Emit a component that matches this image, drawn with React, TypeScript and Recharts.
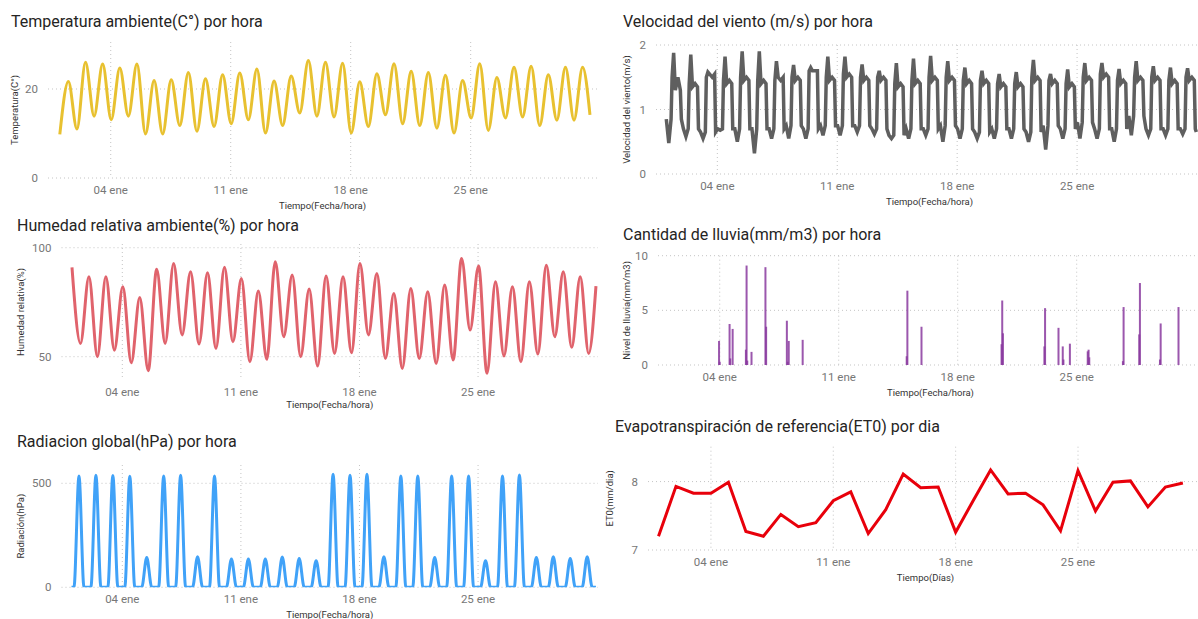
import React from 'react';
import { ComposedChart, Line, Bar, XAxis, YAxis, CartesianGrid } from 'recharts';

// eje de tiempo: días desde el 01 ene 00:00
const xTickDays = [3, 10, 17, 24];
const xTickLabels = ['04 ene', '11 ene', '18 ene', '25 ene'];
const lastHour = 30.96;

// Temperatura (C°): mínimo de madrugada y máximo de mediodía de cada día
const tempLows = [9.8, 11.0, 13.9, 13.1, 13.9, 9.9, 9.9, 11.8, 10.5, 11.6, 12.2, 13.1, 10.1, 11.8, 14.6, 13.9, 13.7, 10.1, 11.6, 14.2, 12.2, 11.8, 11.2, 10.1, 13.5, 10.7, 13.5, 13.7, 11.8, 13.0, 13.0, 14.2];
const tempHighs = [21.7, 26.0, 25.6, 24.7, 25.6, 21.9, 22.1, 23.7, 22.3, 23.2, 23.6, 24.5, 21.8, 22.9, 26.4, 26.0, 25.8, 21.6, 23.4, 25.7, 24.0, 23.7, 23.1, 21.9, 25.7, 22.6, 24.9, 25.1, 23.2, 24.9, 24.9];

// Humedad relativa (%): máximo nocturno y mínimo de la tarde
const humHighs = [91, 86.7, 86.7, 82.1, 77.2, 90.1, 92.8, 89, 88.5, 91, 85.9, 80.1, 93.6, 87.5, 81, 87, 86.7, 92.8, 88.2, 79, 81.3, 79.8, 82.9, 95.1, 91.6, 84.4, 82.1, 84.4, 92, 89, 86.7, 82.4];
const humLows = [56.1, 50, 53, 47.2, 43.6, 56.1, 60, 55.8, 53.8, 56.9, 47.7, 48.8, 59.2, 50, 45.7, 51.5, 51.8, 60, 49.2, 44.6, 49.2, 46.9, 48.5, 62.2, 42.4, 50.3, 47.7, 51.2, 59.2, 54.3, 51.5];

// Radiación global: pico diario
const radPeaks = [535, 539, 537, 534, 143, 535, 539, 147, 535, 136, 136, 136, 146, 139, 128, 543, 539, 543, 147, 535, 535, 143, 535, 535, 128, 535, 540, 143, 147, 139, 147];

// Velocidad del viento (m/s): noche, mínimo, subida de la mañana, pico, meseta de la tarde
const windNight = [0.85, 0.7, 0.65, 0.7, 0.7, 0.7, 0.7, 0.75, 0.7, 0.75, 0.75, 0.75, 0.7, 0.6, 0.7, 0.7, 0.75, 0.7, 0.65, 0.7, 0.7, 0.65, 0.75, 0.7, 0.8, 0.7, 0.7, 0.9, 0.7, 0.7, 0.7];
const windDip = [0.48, 0.58, 0.55, 0.68, 0.5, 0.32, 0.55, 0.55, 0.55, 0.6, 0.6, 0.65, 0.62, 0.55, 0.55, 0.6, 0.5, 0.55, 0.55, 0.55, 0.55, 0.5, 0.38, 0.55, 0.55, 0.55, 0.5, 0.6, 0.6, 0.6, 0.62];
const windPeak = [1.88, 1.85, 1.58, 1.82, 1.9, 1.9, 1.75, 1.69, 1.65, 1.82, 1.82, 1.7, 1.6, 1.72, 1.79, 1.83, 1.75, 1.65, 1.6, 1.55, 1.58, 1.77, 1.55, 1.62, 1.72, 1.72, 1.63, 1.75, 1.67, 1.65, 1.64];
const windDay = [1.5, 1.4, 1.5, 1.45, 1.5, 1.45, 1.45, 1.5, 1.6, 1.5, 1.55, 1.5, 1.5, 1.4, 1.45, 1.5, 1.5, 1.45, 1.45, 1.4, 1.4, 1.5, 1.45, 1.4, 1.5, 1.55, 1.45, 1.5, 1.5, 1.45, 1.5];
const windLate = [1.3, 1.35, 1.55, 1.4, 1.45, 1.4, 1.5, 1.45, 1.6, 1.45, 1.5, 1.45, 1.45, 1.35, 1.4, 1.45, 1.45, 1.4, 1.4, 1.35, 1.35, 1.45, 1.4, 1.35, 1.45, 1.5, 1.4, 1.45, 1.45, 1.4, 1.45];
const windEnd = 0.65;

// Lluvia (mm/m3): horas con lluvia
const rainTimes = [2.96, 3.0, 3.58, 3.62, 3.76, 4.54, 4.58, 4.62, 4.87, 5.69, 5.73, 6.95, 7.0, 7.06, 7.88, 14.0, 14.04, 14.87, 19.58, 19.62, 19.66, 22.1, 22.14, 22.93, 23.18, 23.22, 23.6, 24.65, 24.7, 24.74, 26.72, 26.76, 27.68, 27.72, 28.9, 28.94, 29.99];
const rainValues = [2.2, 0.3, 3.75, 0.6, 3.3, 1.4, 9.1, 0.4, 1.2, 8.95, 3.5, 4.05, 0.3, 2.2, 2.3, 0.8, 6.8, 3.5, 1.9, 5.9, 2.9, 1.7, 5.2, 3.4, 1.7, 0.5, 1.95, 1.25, 1.4, 0.7, 0.35, 5.3, 2.8, 7.5, 0.5, 3.8, 5.3];

// ET0 (mm/dia) por día
const et0Values = [7.2, 7.93, 7.83, 7.83, 7.99, 7.27, 7.2, 7.52, 7.34, 7.4, 7.72, 7.85, 7.24, 7.59, 8.11, 7.91, 7.92, 7.26, 7.72, 8.17, 7.82, 7.83, 7.66, 7.28, 8.16, 7.57, 7.99, 8.01, 7.63, 7.92, 7.98];

const at = (d: number, hour: number) => Math.min(d + hour / 24, lastHour);
const byTime = (a: { t: number }, b: { t: number }) => a.t - b.t;

const tempData = [
  ...tempLows.map((v, d) => ({ t: at(d, 0.7), v })),
  ...tempHighs.map((v, d) => ({ t: at(d, 12.7), v })),
].sort(byTime);

const humData = [
  ...humHighs.map((v, d) => ({ t: at(d, 0.7), v })),
  ...humLows.map((v, d) => ({ t: at(d, 12.7), v })),
].sort(byTime);

const radData = [
  { t: 0, v: 0 },
  ...radPeaks.flatMap((v, d) => [
    { t: at(d, 3.5), v: 0 },
    { t: at(d, 10.6), v },
    { t: at(d, 17.7), v: 0 },
  ]),
  { t: lastHour, v: 0 },
];

const windData = [
  ...windNight.flatMap((n, d) => [
    { t: at(d, 0.5), v: n },
    { t: at(d, 4), v: windDip[d] },
    { t: at(d, 7.2), v: n },
    { t: at(d, 8.6), v: windDay[d] },
    { t: at(d, 10.8), v: windPeak[d] },
    { t: at(d, 13.2), v: windLate[d] },
    { t: at(d, 16.8), v: windDay[d] },
    { t: at(d, 20.2), v: windLate[d] },
    { t: at(d, 21.6), v: n },
  ]),
  { t: lastHour, v: windEnd },
];

const rainData = rainTimes.map((t, i) => ({ t, v: rainValues[i] }));
const et0Data = et0Values.map((v, d) => ({ t: d, v }));

const FONT = 'Roboto, "Open Sans", sans-serif';

type Plot = { l: number; r: number; t: number; b: number };

interface PanelProps {
  left: number;
  top: number;
  plot: Plot;
  title: string;
  titleX: number;
  titleY: number;
  yTitle: string;
  yTitleX: number;
  xTitle: string;
  xTitleY: number;
  xDomain: [number, number];
  yDomain: [number, number];
  yTicks: number[];
  data: any[];
  children: React.ReactNode;
}

// barra horaria fina: el ancho de banda entre horas es menor de 1px
const RainBar = (props: any) => {
  const { x, y, width, height } = props;
  if (!height || height <= 0) return null;
  return <rect x={x + width / 2 - 1} y={y} width={2} height={height} fill="#8A3A9F" fillOpacity={0.85} />;
};

const Panel = (p: PanelProps) => {
  const yAxisWidth = p.plot.l - p.left;
  const xAxisHeight = p.xTitleY + 3.5 - p.plot.b;
  const width = p.plot.r + 2 - p.left;
  const height = p.plot.b + xAxisHeight + 2 - p.top;
  return (
    <>
      <div
        style={{
          position: 'absolute',
          left: p.titleX,
          top: p.titleY - 11,
          fontFamily: FONT,
          fontSize: 16,
          lineHeight: '22px',
          color: '#252423',
          whiteSpace: 'nowrap',
        }}
      >
        {p.title}
      </div>
      <div style={{ position: 'absolute', left: p.left, top: p.top }}>
        <ComposedChart
          width={width}
          height={height}
          data={p.data}
          margin={{ top: p.plot.t - p.top, right: 2, left: 0, bottom: 2 }}
        >
          <CartesianGrid stroke="#c4c4c4" strokeDasharray="1 3" syncWithTicks />
          <XAxis
            dataKey="t"
            type="number"
            domain={p.xDomain}
            allowDataOverflow
            ticks={xTickDays}
            interval={0}
            tickFormatter={(v) => xTickLabels[xTickDays.indexOf(v)]}
            axisLine={false}
            tickLine={false}
            height={xAxisHeight}
            tick={{ fill: '#777', fontSize: 11.5, fontFamily: FONT }}
            label={{ value: p.xTitle, position: 'insideBottom', offset: 0, fill: '#333', fontSize: 9.5, fontFamily: FONT }}
          />
          <YAxis
            type="number"
            domain={p.yDomain}
            allowDataOverflow
            ticks={p.yTicks}
            interval={0}
            axisLine={false}
            tickLine={false}
            tickMargin={4}
            width={yAxisWidth}
            tick={{ fill: '#777', fontSize: 11.5, fontFamily: FONT }}
            label={{
              value: p.yTitle,
              angle: -90,
              position: 'insideLeft',
              offset: p.yTitleX - p.left,
              fill: '#333',
              fontSize: 9.5,
              fontFamily: FONT,
              style: { textAnchor: 'middle' },
            }}
          />
          {p.children}
        </ComposedChart>
      </div>
    </>
  );
};

export default function App() {
  return (
    <div
      style={{
        position: 'absolute',
        left: 0,
        top: 0,
        width: 1198,
        height: 619,
        overflow: 'hidden',
        background: '#fff',
      }}
    >
      <Panel
        left={0}
        top={0}
        plot={{ l: 48, r: 597, t: 42, b: 178 }}
        title="Temperatura ambiente(C°) por hora"
        titleX={11}
        titleY={22}
        yTitle="Temperatura(C°)"
        yTitleX={15}
        xTitle="Tiempo(Fecha/hora)"
        xTitleY={205}
        xDomain={[-0.66, 31.37]}
        yDomain={[0, 30.56]}
        yTicks={[0, 20]}
        data={tempData}
      >
        <Line dataKey="v" type="monotone" stroke="#E8C130" strokeWidth={3} dot={false} isAnimationActive={false} />
      </Panel>

      <Panel
        left={600}
        top={0}
        plot={{ l: 656, r: 1203, t: 45, b: 174 }}
        title="Velocidad del viento (m/s) por hora"
        titleX={623}
        titleY={22}
        yTitle="Velocidad del viento(m/s)"
        yTitleX={627}
        xTitle="Tiempo(Fecha/hora)"
        xTitleY={201}
        xDomain={[-0.58, 31.35]}
        yDomain={[0, 2]}
        yTicks={[0, 1, 2]}
        data={windData}
      >
        <Line dataKey="v" type="linear" stroke="#5F5F5F" strokeWidth={3.5} dot={false} isAnimationActive={false} />
      </Panel>

      <Panel
        left={0}
        top={210}
        plot={{ l: 61.5, r: 598, t: 244, b: 380 }}
        title="Humedad relativa ambiente(%) por hora"
        titleX={17}
        titleY={226}
        yTitle="Humedad relativa(%)"
        yTitleX={21}
        xTitle="Tiempo(Fecha/hora)"
        xTitleY={404}
        xDomain={[-0.59, 31.08]}
        yDomain={[39.3, 101.7]}
        yTicks={[50, 100]}
        data={humData}
      >
        <Line dataKey="v" type="monotone" stroke="#E0636C" strokeWidth={3} dot={false} isAnimationActive={false} />
      </Panel>

      <Panel
        left={600}
        top={210}
        plot={{ l: 658, r: 1203, t: 255.7, b: 365 }}
        title="Cantidad de lluvia(mm/m3) por hora"
        titleX={623}
        titleY={235}
        yTitle="Nivel de lluvia(mm/m3)"
        yTitleX={627}
        xTitle="Tiempo(Fecha/hora)"
        xTitleY={392.7}
        xDomain={[-0.63, 31.43]}
        yDomain={[0, 10]}
        yTicks={[0, 5, 10]}
        data={rainData}
      >
        <Bar dataKey="v" fill="#8A3A9F" shape={RainBar} isAnimationActive={false} />
      </Panel>

      <Panel
        left={0}
        top={410}
        plot={{ l: 61.5, r: 598, t: 465, b: 587.3 }}
        title="Radiacion global(hPa) por hora"
        titleX={17}
        titleY={442}
        yTitle="Radiación(hPa)"
        yTitleX={21}
        xTitle="Tiempo(Fecha/hora)"
        xTitleY={614}
        xDomain={[-0.59, 31.08]}
        yDomain={[0, 588]}
        yTicks={[0, 500]}
        data={radData}
      >
        <Line dataKey="v" type="monotone" stroke="#40A2F8" strokeWidth={3} dot={false} isAnimationActive={false} />
      </Panel>

      <Panel
        left={600}
        top={410}
        plot={{ l: 648, r: 1203, t: 446.7, b: 550 }}
        title="Evapotranspiración de referencia(ET0) por dia"
        titleX={615}
        titleY={427}
        yTitle="ET0(mm/dia)"
        yTitleX={610}
        xTitle="Tiempo(Días)"
        xTitleY={577.7}
        xDomain={[-0.6, 31.15]}
        yDomain={[7, 8.51]}
        yTicks={[7, 8]}
        data={et0Data}
      >
        <Line dataKey="v" type="linear" stroke="#E8000B" strokeWidth={3} dot={false} isAnimationActive={false} />
      </Panel>
    </div>
  );
}
